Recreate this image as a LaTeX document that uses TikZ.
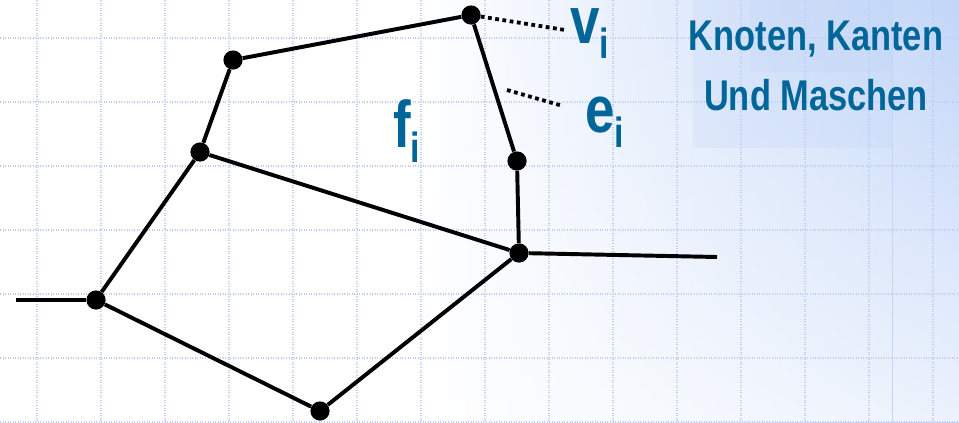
\documentclass[tikz,border=0pt]{standalone}
\usepackage{fontspec}
\setmainfont{Liberation Sans}
\newfontfamily\slidefont[FakeStretch=0.8]{Liberation Sans}
\usetikzlibrary{fadings}
\definecolor{slideblue}{RGB}{0,102,153}
\definecolor{bgblue}{RGB}{194,214,248}
\definecolor{gridblue}{RGB}{190,205,252}
\newcommand{\graphLabel}[2]{%
    {\fontsize{47}{50}\selectfont #1}\raisebox{-11pt}{\fontsize{30}{32}\selectfont #2}%
}

\begin{document}
\begin{tikzpicture}[x=0.025cm, y=-0.025cm,
    knoten/.style={circle, fill=black, inner sep=0pt, minimum size=0.48cm},
    kante/.style={line width=2.8pt},
    zeiger/.style={line width=2.7pt, dash pattern=on 2.7pt off 2.5pt},
    gitter/.style={gridblue, line width=0.8pt, dash pattern=on 0.7pt off 1.1pt},
    beschriftung/.style={anchor=base west, inner sep=0pt, text=slideblue, font=\slidefont\bfseries}]
    \useasboundingbox (0,0) rectangle (959,422);
    % hintergrund
    \fill[white] (0,0) rectangle (959,422);
    \shade[left color=white, right color=bgblue] (420,0) rectangle (959,422);
    \fill[white, path fading=north, opacity=0.7] (420,0) rectangle (959,422);
    \fill[bgblue, opacity=0.25] (693,0) rectangle (893,148);
    \fill[bgblue, opacity=0.25] (750,0) rectangle (893,72);
    \draw[bgblue, line width=0.6pt] (892,0) -- (892,422);
    \foreach \gx in {37,101,...,933} {
        \draw[gitter] (\gx,0) -- (\gx,422);
    }
    \foreach \gy in {38,102,...,422} {
        \draw[gitter] (0,\gy) -- (959,\gy);
    }
    % knoten
    \foreach \n/\px/\py in {k1/471/15, k2/233/60, k3/200/152, k4/517/161,
                            k5/519/253, k6/96/300, k7/320/411} {
        \node[knoten] (\n) at (\px,\py) {};
    }
    \coordinate (links) at (16,300);
    \coordinate (rechts) at (717,257);
    \draw[kante] (k1) -- (k2) -- (k3) -- (k6) -- (k7) -- (k5) -- (k4) -- (k1);
    \draw[kante] (k3) -- (k5) -- (rechts);
    \draw[kante] (links) -- (k6);
    % zeiger und beschriftung
    \coordinate (vzeiger) at (565,30);
    \coordinate (ezeigerA) at (507,90);
    \coordinate (ezeigerB) at (563,106);
    \draw[zeiger] (k1) -- (vzeiger);
    \draw[zeiger] (ezeigerA) -- (ezeigerB);
    \node[beschriftung] (vlabel) at (570,43) {\graphLabel{v}{i}};
    \node[beschriftung] (elabel) at (585,132) {\graphLabel{e}{i}};
    \node[beschriftung] (flabel) at (393,147) {\graphLabel{f}{i}};
    \node[text=slideblue, font=\slidefont\bfseries\fontsize{30.6}{42.7}\selectfont,
          align=center, anchor=north, inner sep=0pt] (titel) at (816,21) {Knoten, Kanten\\Und Maschen};
\end{tikzpicture}
\end{document}
